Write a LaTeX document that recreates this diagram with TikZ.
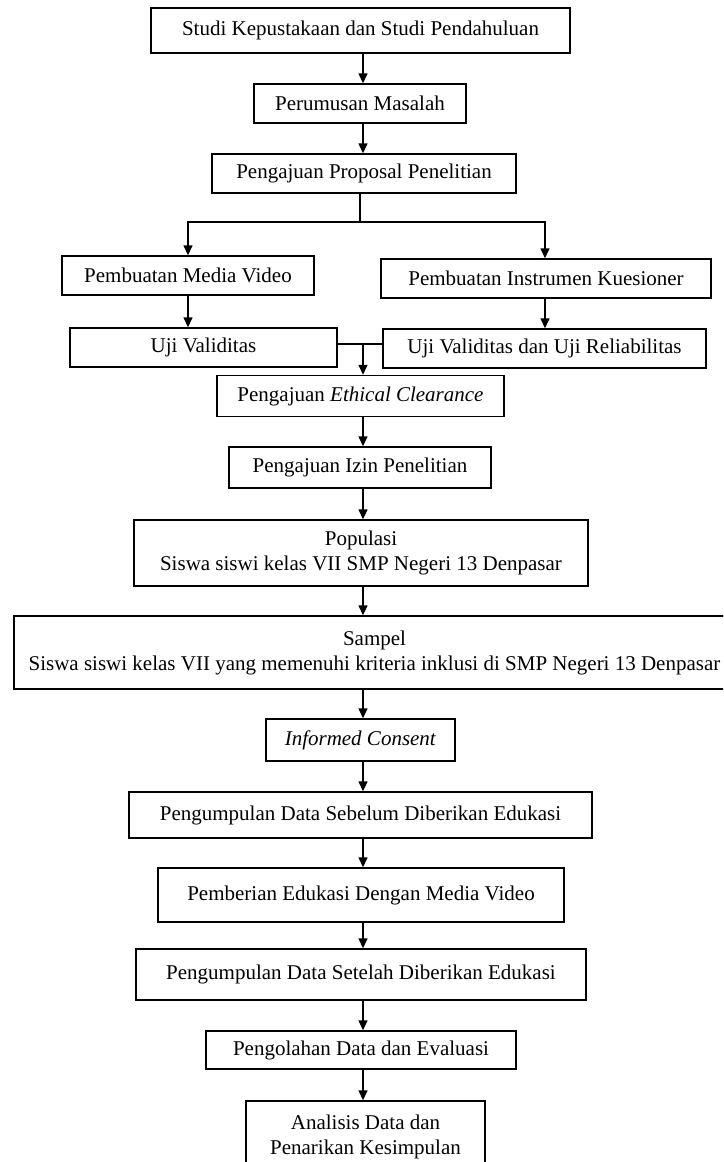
\documentclass[tikz,border=0pt]{standalone}
\usepackage{fontspec}
\setmainfont{Liberation Serif}
\usetikzlibrary{arrows.meta}
\begin{document}
\begin{tikzpicture}[x=1pt,y=-1pt,
  box/.style={draw,line width=1.4pt,inner sep=0pt,align=center,
    font=\fontsize{21}{25}\selectfont},
  conn/.style={line width=1.4pt},
  arr/.style={conn,-{Triangle[length=10pt,width=9pt]}}]
\useasboundingbox (0,0) rectangle (723,1162);
\clip (0,0) rectangle (723,1162);
\node[box,minimum width=419,minimum height=45] (studi) at (360.5,30.5) {Studi Kepustakaan dan Studi Pendahuluan};
\node[box,minimum width=212,minimum height=39] (rumus) at (360,103.5) {Perumusan Masalah};
\node[box,minimum width=304,minimum height=39] (prop) at (364,173.5) {Pengajuan Proposal Penelitian};
\node[box,minimum width=252,minimum height=39] (media) at (188,275.5) {Pembuatan Media Video};
\node[box,minimum width=330,minimum height=39] (instr) at (546,278.5) {Pembuatan Instrumen Kuesioner};
\node[box,minimum width=267,minimum height=39] (uji1) at (203.5,347.5) {Uji Validitas};
\node[box,minimum width=323,minimum height=39] (uji2) at (544.5,348.5) {Uji Validitas dan Uji Reliabilitas};
\node[box,minimum width=287,minimum height=41] (eth) at (360.5,396) {Pengajuan \textit{Ethical Clearance}};
\node[box,minimum width=262,minimum height=41] (izin) at (360,467.5) {Pengajuan Izin Penelitian};
\node[box,minimum width=454,minimum height=66] (pop) at (361,553) {Populasi\\Siswa siswi kelas VII SMP Negeri 13 Denpasar};
\node[box,minimum width=721,minimum height=73] (samp) at (374.5,652.5) {Sampel\\Siswa siswi kelas VII yang memenuhi kriteria inklusi di SMP Negeri 13 Denpasar};
\node[box,minimum width=189,minimum height=42] (inf) at (360.5,740) {\textit{Informed Consent}};
\node[box,minimum width=463,minimum height=46] (seb) at (360.5,815) {Pengumpulan Data Sebelum Diberikan Edukasi};
\node[box,minimum width=406,minimum height=54] (pemb) at (361,895) {Pemberian Edukasi Dengan Media Video};
\node[box,minimum width=450,minimum height=51] (set) at (361,974.5) {Pengumpulan Data Setelah Diberikan Edukasi};
\node[box,minimum width=310,minimum height=38] (olah) at (361,1050) {Pengolahan Data dan Evaluasi};
\node[box,minimum width=239,minimum height=72] (anal) at (365.5,1137) {Analisis Data dan\\Penarikan Kesimpulan};
\coordinate (ax) at (363,0);
\coordinate (br) at (360,222);
\coordinate (m) at (363,344);
\draw[arr] (studi.south -| ax) -- (rumus.north -| ax);
\draw[arr] (rumus.south -| ax) -- (prop.north -| ax);
\draw[conn] (prop.south -| br) -- (br);
\draw[arr] (br) -| (media.north);
\draw[arr] (br) -| (instr.north -| 545,0);
\draw[arr] (media.south) -- (media.south |- uji1.north);
\draw[arr] (instr.south -| 545,0) -- (uji2.north -| 545,0);
\draw[conn] (uji1.east |- m) -- (uji2.west |- m);
\draw[arr] (m) -- (m |- eth.north);
\draw[arr] (eth.south -| ax) -- (izin.north -| ax);
\draw[arr] (izin.south -| ax) -- (pop.north -| ax);
\draw[arr] (pop.south -| ax) -- (samp.north -| ax);
\draw[arr] (samp.south -| ax) -- (inf.north -| ax);
\draw[arr] (inf.south -| ax) -- (seb.north -| ax);
\draw[arr] (seb.south -| ax) -- (pemb.north -| ax);
\draw[arr] (pemb.south -| ax) -- (set.north -| ax);
\draw[arr] (set.south -| ax) -- (olah.north -| ax);
\draw[arr] (olah.south -| ax) -- (anal.north -| ax);
\end{tikzpicture}
\end{document}
